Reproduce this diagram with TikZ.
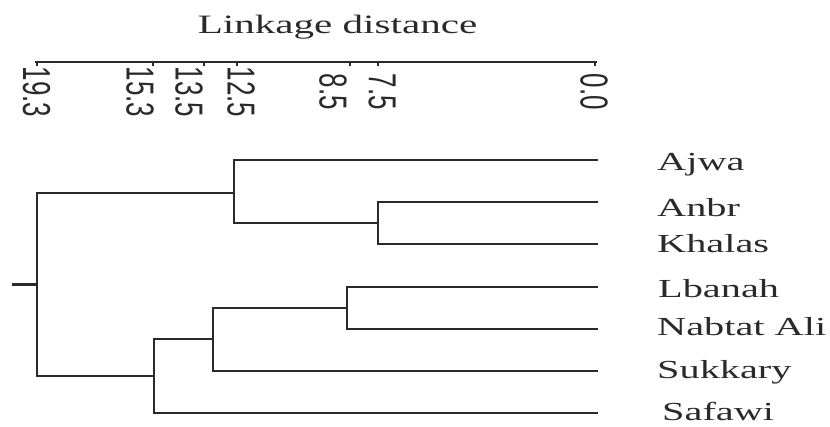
\documentclass[tikz,border=0pt]{standalone}
\usepackage{fontspec}
\setmainfont{Liberation Serif}
\newfontfamily\tickfont{Liberation Sans}
\definecolor{ink}{HTML}{2A2A2A}
\newcommand\hstretch[1]{\scalebox{1.55}[1]{#1}}
\newcommand\vstretch[1]{\scalebox{1}[1.5]{#1}}
\begin{document}
\begin{tikzpicture}[x=1pt,y=-1pt,
  lbl/.style={anchor=base west, inner sep=0pt, text=ink, font=\fontsize{26}{26}\selectfont},
  ttl/.style={anchor=base, inner sep=0pt, text=ink, font=\fontsize{26.5}{26.5}\selectfont},
  ticklbl/.style={rotate=-90, anchor=center, inner sep=0pt, text=ink, font=\tickfont\fontsize{26}{26}\selectfont},
  branch/.style={draw=ink, line width=2.7pt, line cap=rect},
  axisline/.style={draw=ink, line width=1.8pt},
  tickmark/.style={draw=ink, line width=2pt}]
\useasboundingbox (0,0) rectangle (830,426);
% title and axis
\node[ttl] (title) at (337.5,33) {\hstretch{Linkage distance}};
\coordinate (ax0) at (35,62);
\coordinate (ax1) at (597,62);
\draw[axisline] (ax0) -- (ax1);
\foreach \x/\nm in {37/a,153/b,204/c,237/d,350/e,378/f,595/g}{
  \coordinate (tk\nm) at (\x,62);
  \draw[tickmark] (tk\nm) -- ++(0,4);
}
\node[ticklbl] (l193) at (36.5,92) {\vstretch{19.3}};
\node[ticklbl] (l153) at (140,92) {\vstretch{15.3}};
\node[ticklbl] (l135) at (189,92) {\vstretch{13.5}};
\node[ticklbl] (l125) at (241,92) {\vstretch{12.5}};
\node[ticklbl] (l85)  at (333,92) {\vstretch{8.5}};
\node[ticklbl] (l75)  at (382,92) {\vstretch{7.5}};
\node[ticklbl] (l00)  at (594,92) {\vstretch{0.0}};
% leaf ends
\coordinate (ajwa) at (597,160);
\coordinate (anbr) at (597,202);
\coordinate (khalas) at (597,244);
\coordinate (lbanah) at (597,287);
\coordinate (nabtat) at (597,329);
\coordinate (sukkary) at (597,371);
\coordinate (safawi) at (597,413);
% merge points
\coordinate (m1) at (378,223);
\coordinate (m2) at (234,193);
\coordinate (m3) at (347,308);
\coordinate (m4) at (213,339);
\coordinate (m5) at (154,376);
\coordinate (root) at (37,284.5);
\coordinate (stub) at (13,284.5);
% branches
\draw[branch] (anbr) -| (m1);
\draw[branch] (khalas) -| (m1);
\draw[branch] (ajwa) -| (m2);
\draw[branch] (m1) -| (m2);
\draw[branch] (lbanah) -| (m3);
\draw[branch] (nabtat) -| (m3);
\draw[branch] (m3) -| (m4);
\draw[branch] (sukkary) -| (m4);
\draw[branch] (m4) -| (m5);
\draw[branch] (safawi) -| (m5);
\draw[branch] (m2) -| (root);
\draw[branch] (m5) -| (root);
\draw[branch] (stub) -- (root);
% labels
\node[lbl] (tajwa) at (657,170) {\hstretch{Ajwa}};
\node[lbl] (tanbr) at (657,216) {\hstretch{Anbr}};
\node[lbl] (tkhalas) at (657,252) {\hstretch{Khalas}};
\node[lbl] (tlbanah) at (658,297) {\hstretch{Lbanah}};
\node[lbl] (tnabtat) at (657,335) {\hstretch{Nabtat Ali}};
\node[lbl] (tsukkary) at (657,378) {\hstretch{Sukkary}};
\node[lbl] (tsafawi) at (662,420.5) {\hstretch{Safawi}};
\end{tikzpicture}
\end{document}
